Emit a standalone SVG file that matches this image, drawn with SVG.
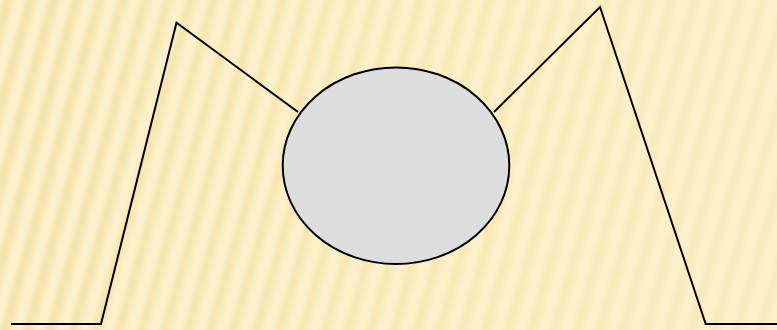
<svg xmlns="http://www.w3.org/2000/svg" width="777" height="330" viewBox="0 0 777 330">
<defs>
<linearGradient id="sg" x1="0" y1="0" x2="1" y2="0">
<stop offset="0" stop-color="#FCF0CB"/>
<stop offset="0.3" stop-color="#F6E3A8"/>
<stop offset="0.5" stop-color="#F8E7B4"/>
<stop offset="0.75" stop-color="#FCF0CB"/>
<stop offset="1" stop-color="#FCF0CB"/>
</linearGradient>
<pattern id="stripes" width="22" height="40" patternUnits="userSpaceOnUse" patternTransform="rotate(16)">
<rect width="22" height="40" fill="url(#sg)"/>
</pattern>
<linearGradient id="fade" x1="0" y1="0" x2="1" y2="0">
<stop offset="0" stop-color="#FCF0CB" stop-opacity="0"/>
<stop offset="1" stop-color="#FCF0CB" stop-opacity="0.6"/>
</linearGradient>
</defs>
<style>
.ln{fill:none;stroke:#000;stroke-width:2;stroke-linejoin:miter}
.nd{fill:#DDDDDD;stroke:#000;stroke-width:2}
</style>
<rect width="777" height="330" fill="#FCF0CB"/>
<rect width="777" height="330" fill="url(#stripes)"/>
<rect width="777" height="330" fill="url(#fade)"/>
<g id="connectors">
<polyline class="ln" points="11,324 101,324 176.5,22.7 298,112"/>
<polyline class="ln" points="494,112 600,7 705.7,324 777,324"/>
</g>
<g id="node1">
<ellipse class="nd" cx="396" cy="165.7" rx="113.3" ry="98.3"/>
</g>
</svg>
